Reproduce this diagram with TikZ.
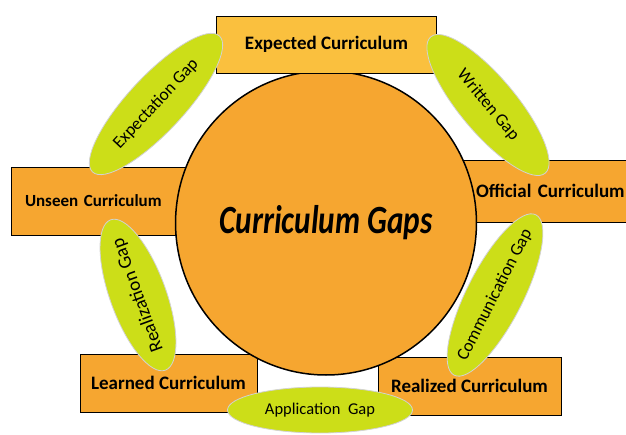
\documentclass[tikz,border=0pt]{standalone}
\usepackage{fontspec}
\setmainfont{Carlito}
\usepackage{graphicx}
\usepackage{tikz}
\usetikzlibrary{shapes}
\definecolor{cgOrange}{RGB}{246,166,48}
\definecolor{cgYellow}{RGB}{250,192,62}
\definecolor{cgLime}{RGB}{204,222,24}

\begin{document}
\begin{tikzpicture}[x=1pt, y=-1pt]%
  \tikzset{box/.style={draw, rectangle, fill=cgOrange, line width=0.9pt, font=\fontsize{19}{21}\selectfont\bfseries},
           gap/.style={draw=gray!35, ellipse, fill=cgLime, line width=0.8pt, font=\fontsize{17.5}{19}\selectfont}}
  \tikzstyle{every node}=[text=black, outer sep=0pt, inner sep=0pt]
  \useasboundingbox (0,0) rectangle (626,435);

  % boxes behind the big circle
  \node[box, font=\fontsize{17}{19}\selectfont\bfseries, minimum width=219, minimum height=68, text width=191, align=left] at (120.5,201) (UC) {\mbox{Unseen Curriculum}};
  \node[box, minimum width=166, minimum height=62, text width=136, align=left] at (544,191) (OC) {\mbox{Official Curriculum}};
  \node[box, minimum width=177, minimum height=58] at (168.5,383) (LC) {Learned Curriculum};
  \node[box, minimum width=183, minimum height=58] at (469.5,386) (RC) {Realized Curriculum};

  \node[draw, ellipse, fill=cgOrange, line width=1.5pt, minimum width=284, minimum height=304] at (326,223) (CG)
    {\scalebox{0.78}[1]{\fontsize{40}{44}\selectfont\bfseries\itshape Curriculum Gaps}};

  \node[box, fill=cgYellow, minimum width=220, minimum height=57] at (326.5,44.5) (EC) {Expected Curriculum};

  % gaps (zero-width text so the ellipse keeps its size)
  \node[gap, rotate=47, minimum width=186, minimum height=56] at (156,104) (EG) {\makebox[0pt]{Expectation Gap}};
  \node[gap, rotate=-50, minimum width=178, minimum height=56] at (488,105) (WG) {\makebox[0pt]{Written Gap}};
  \node[gap, font=\fontsize{19}{21}\selectfont, rotate=110, minimum width=160, minimum height=56] at (138,295) (RG) {\makebox[0pt]{Realization Gap}};
  \node[gap, rotate=63, minimum width=180, minimum height=56] at (495,295) (CommG) {\makebox[0pt]{Communication Gap}};
  \node[gap, font=\fontsize{16.5}{18}\selectfont, minimum width=185, minimum height=46] at (320,410) (AG) {\makebox[0pt]{Application~~Gap}};
\end{tikzpicture}
\end{document}
